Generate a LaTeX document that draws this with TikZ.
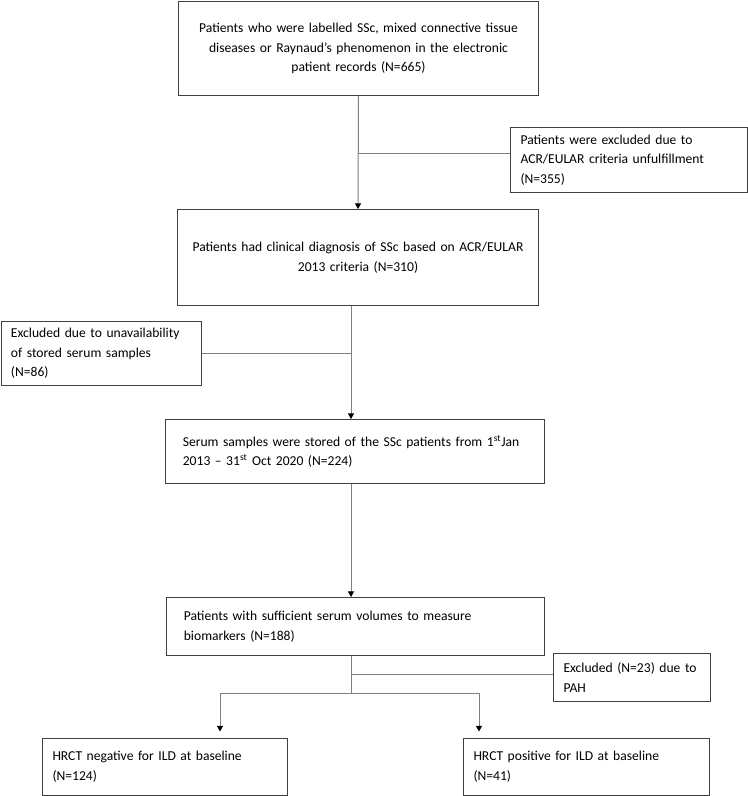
\documentclass[tikz,border=0pt]{standalone}
\usepackage{fontspec}
\setmainfont{Carlito}
\usetikzlibrary{arrows.meta}
\definecolor{boxline}{HTML}{404040}
\definecolor{linkline}{HTML}{808080}
\hyphenpenalty=10000
\tikzset{
  flowbox/.style={draw=boxline, line width=0.75pt, anchor=north west, inner xsep=7.5pt, inner ysep=0pt,
    align=left, font=\fontsize{10.2}{14.6}\selectfont},
  link/.style={draw=linkline, line width=0.75pt},
  linkarrow/.style={link, -{Triangle[width=4.6pt,length=4.3pt,color=black]}}
}

\begin{document}
\begin{tikzpicture}[x=0.75pt,y=-0.75pt]
\useasboundingbox (0,0) rectangle (748,796);

% main column
\node[flowbox, align=center, inner xsep=5pt, text width=260pt, minimum height=70.5pt] (records) at (178,1)
  {Patients who were labelled SSc, mixed connective tissue\\diseases or Raynaud’s phenomenon in the electronic\\patient records (N=665)\\[2pt]};
\node[flowbox, align=center, inner xsep=5pt, text width=260.75pt, minimum height=72pt] (diagnosis) at (177,209)
  {Patients had clinical diagnosis of SSc based on ACR/EULAR\\2013 criteria (N=310)\\[2pt]};
\node[flowbox, inner xsep=13pt, text width=258.25pt, minimum height=48pt] (stored) at (165,419)
  {Serum samples were stored of the SSc patients from 1\textsuperscript{st}Jan\\2013 -- 31\textsuperscript{st} Oct 2020 (N=224)\\[-4pt]};
\node[flowbox, inner xsep=13pt, text width=257.5pt, minimum height=43.5pt] (sufficient) at (166,597)
  {Patients with sufficient serum volumes to measure\\biomarkers (N=188)\\[-4pt]};
\node[flowbox, text width=168.75pt, minimum height=42.75pt] (negative) at (42,737.5)
  {HRCT negative for ILD at baseline\\(N=124)\\[-4pt]};
\node[flowbox, text width=169.5pt, minimum height=42.75pt] (positive) at (463,737.5)
  {HRCT positive for ILD at baseline\\(N=41)\\[-4pt]};

% exclusions
\node[flowbox, text width=162.75pt, minimum height=48.75pt] (excluded1) at (510,127)
  {Patients were excluded due to\\ACR/EULAR criteria unfulfillment\\(N=355)};
\node[flowbox, text width=135pt, minimum height=48pt] (excluded2) at (0.5,321)
  {Excluded due to unavailability\\of stored serum samples\\(N=86)};
\node[flowbox, inner xsep=6pt, text width=105.75pt, minimum height=36pt] (excluded3) at (553,653)
  {\hspace*{1.5pt}Excluded (N=23) due to\\\hspace*{1.5pt}PAH};

% connectors
\coordinate (j1) at (358,153);
\coordinate (t2) at (351,353);
\coordinate (t4) at (351,674);
\coordinate (b4) at (351,693);
\coordinate (bl) at (220,693);
\coordinate (br) at (479,693);

\draw[linkarrow] (records.south) -- (diagnosis.north);
\draw[link] (j1) -- (j1 -| excluded1.west);
\draw[linkarrow] (diagnosis.south -| t2) -- (stored.north -| t2);
\draw[link] (t2) -- (t2 -| excluded2.east);
\draw[linkarrow] (stored.south -| t2) -- (sufficient.north -| t2);
\draw[link] (sufficient.south -| t4) -- (b4);
\draw[link] (t4) -- (t4 -| excluded3.west);
\draw[link] (bl) -- (br);
\draw[linkarrow, shorten >=4.5pt] (bl) -- (bl |- negative.north);
\draw[linkarrow, shorten >=4.5pt] (br) -- (br |- positive.north);
\end{tikzpicture}
\end{document}
